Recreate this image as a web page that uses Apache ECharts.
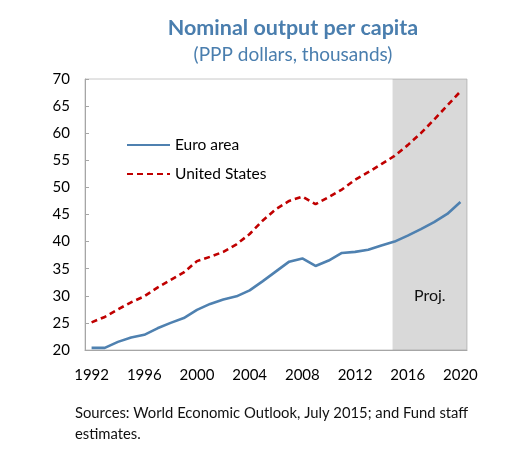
<!DOCTYPE html>
<html>
<head>
<meta charset="utf-8">
<script src="https://cdn.jsdelivr.net/npm/echarts@6/dist/echarts.min.js"></script>
<style>
html,body{margin:0;padding:0;background:#fff;}
#chart{width:532px;height:470px;}
</style>
</head>
<body>
<div id="chart"></div>
<script>
const years = ["1992","1993","1994","1995","1996","1997","1998","1999","2000","2001","2002","2003","2004","2005","2006","2007","2008","2009","2010","2011","2012","2013","2014","2015","2016","2017","2018","2019","2020"];
const euroArea = [20.4,20.4,21.5,22.3,22.8,24.0,25.0,25.9,27.4,28.5,29.3,29.9,31.0,32.7,34.5,36.3,36.9,35.5,36.5,37.9,38.1,38.5,39.3,40.0,41.1,42.3,43.6,45.1,47.3];
const unitedStates = [25.1,26.1,27.5,28.8,29.9,31.5,32.9,34.3,36.4,37.2,38.1,39.5,41.4,43.9,46.0,47.5,48.3,46.9,48.2,49.6,51.4,52.8,54.3,55.8,57.8,60.0,62.5,65.1,67.7];
const projStart = 2015;
const projEnd = 2020;
const yTicks = {min: 20, max: 70, interval: 5};

const FONT = 'Lato';
const chart = echarts.init(document.getElementById('chart'));
chart.setOption({
  animation: false,
  textStyle: {fontFamily: FONT},
  title: [
    {
      text: 'Nominal output per capita',
      subtext: '(PPP dollars, thousands)',
      left: 288, top: 12, textAlign: 'center', itemGap: 6,
      textStyle: {fontFamily: FONT, fontSize: 21.5, fontWeight: 'bold', color: '#4a7eae'},
      subtextStyle: {fontFamily: FONT, fontSize: 19, color: '#4a7eae'}
    },
    {
      text: 'Sources: World Economic Outlook, July 2015; and Fund staff\nestimates.',
      left: 70, top: 398,
      textStyle: {fontFamily: FONT, fontSize: 14.8, fontWeight: 'normal', color: '#111', lineHeight: 21}
    }
  ],
  legend: {
    data: ['Euro area', 'United States'],
    orient: 'vertical', left: 121, top: 132,
    itemWidth: 43, itemHeight: 14, itemGap: 13,
    itemStyle: {opacity: 0},
    textStyle: {fontFamily: FONT, fontSize: 15.5, color: '#000'}
  },
  grid: {left: 85, right: 65, top: 79, bottom: 120, show: true, borderColor: '#c8c8c8', borderWidth: 1},
  xAxis: [
    {
      type: 'category', data: years, boundaryGap: true,
      axisLine: {lineStyle: {color: '#a6a6a6'}},
      axisTick: {inside: true, length: 5, interval: 3, lineStyle: {color: '#a6a6a6'}},
      axisLabel: {interval: 3, margin: 18, fontFamily: FONT, fontSize: 15, color: '#000'},
      splitLine: {show: false}
    },
    {
      type: 'value', min: 1991.5, max: 2020.5, show: false
    }
  ],
  yAxis: {
    type: 'value', min: yTicks.min, max: yTicks.max, interval: yTicks.interval,
    axisLine: {show: true, lineStyle: {color: '#a6a6a6'}},
    axisTick: {show: true, inside: true, length: 4, lineStyle: {color: '#a6a6a6'}},
    axisLabel: {margin: 15, fontFamily: FONT, fontSize: 15, color: '#000'},
    splitLine: {show: false}
  },
  series: [
    {
      name: 'Euro area', type: 'line', data: euroArea, symbol: 'none', z: 2,
      lineStyle: {color: '#4f81b0', width: 2.6}, itemStyle: {color: '#4f81b0'}
    },
    {
      name: 'United States', type: 'line', data: unitedStates, symbol: 'none', z: 2,
      lineStyle: {color: '#c00000', width: 2.6, type: [6, 4]}, itemStyle: {color: '#c00000'}
    },
    {
      name: 'proj', type: 'line', xAxisIndex: 1, data: [], z: 5, silent: true,
      markArea: {
        silent: true,
        itemStyle: {color: 'rgba(128,128,128,0.3)'},
        label: {show: true, position: 'insideBottom', distance: 46, formatter: 'Proj.', fontFamily: FONT, fontSize: 16, color: '#111'},
        data: [[{xAxis: projStart - 0.15}, {xAxis: projEnd + 0.5}]]
      }
    }
  ]
});
</script>
</body>
</html>
